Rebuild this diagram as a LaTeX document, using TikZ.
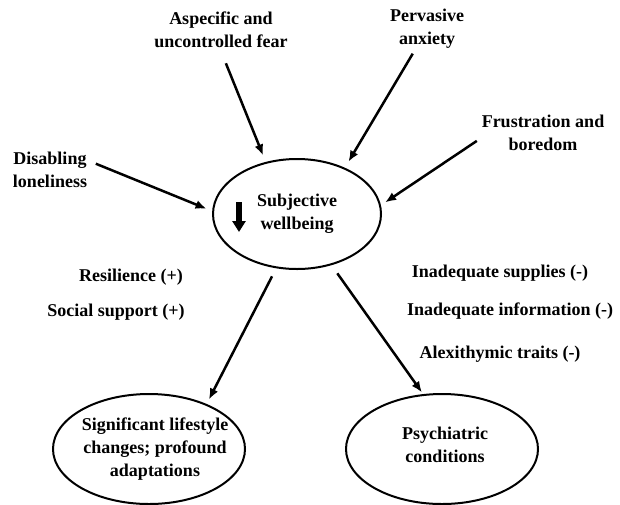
\documentclass[tikz,border=0pt]{standalone}
\usepackage{fontspec}
\setmainfont{Liberation Serif}
\usetikzlibrary{arrows.meta,shapes.geometric,positioning}

\begin{document}
\begin{tikzpicture}[x=1pt,y=-1pt,->,>={Latex[length=11pt,width=9pt]},shorten >=6pt,line width=2.5pt,
  every node/.style={font=\fontsize{18}{23}\selectfont\bfseries,inner sep=2pt,align=center},
  blob/.style={ellipse,draw,line width=2pt,inner sep=0pt,minimum width=192pt,minimum height=110pt}]
\useasboundingbox (0,0) rectangle (620,504);
%
% centre
  \node[blob,minimum width=168pt] (swb) at (297,214) {Subjective\\wellbeing};
  \coordinate (dtop) at ([xshift=-58pt,yshift=12pt]swb.center);
  \coordinate (dbot) at ([xshift=-58pt,yshift=-18pt]swb.center);
  \draw[line width=6pt,shorten >=0pt,-{Triangle[length=11pt,width=13pt]}] (dtop) -- (dbot);
%
% stressors
  \node (asp) at (221,30) {Aspecific and\\uncontrolled fear};
  \node (perv) at (427,29) {Pervasive\\anxiety};
  \node (fru) at (543,133) {Frustration and\\boredom};
  \node (dis) at (50,170) {Disabling\\loneliness};
%
% outcomes
  \node[blob] (sig) at (149,449) {};
  \node (sigtxt) at ([xshift=6pt]sig.center) {Significant lifestyle\\changes; profound\\adaptations};
  \node[blob] (psy) at (442,449) {};
  \node (psytxt) at ([xshift=3pt,yshift=4pt]psy.center) {Psychiatric\\conditions};
%
% moderators
  \node (res) at (131,277) {Resilience (+)};
  \node (soc) at (116,312) {Social support (+)};
  \node (sup) at (500,273) {Inadequate supplies (-)};
  \node (inf) at (510,311) {Inadequate information (-)};
  \node (alx) at (500,354) {Alexithymic traits (-)};
%
  \path (asp.south) edge [shorten <=13pt,shorten >=7pt] (swb.121)
        (perv.240) edge [shorten <=2pt,shorten >=7pt] (swb.44)
        (fru.186) edge [shorten <=2pt,shorten >=5pt] (swb.6)
        (dis.12) edge [shorten <=6pt] (swb.178);
  \path (swb.249) edge [shorten <=9pt,shorten >=5pt] (sig.38)
        (swb.-56) edge [shorten <=10pt,shorten >=2pt] (psy.109);
\end{tikzpicture}
\end{document}
